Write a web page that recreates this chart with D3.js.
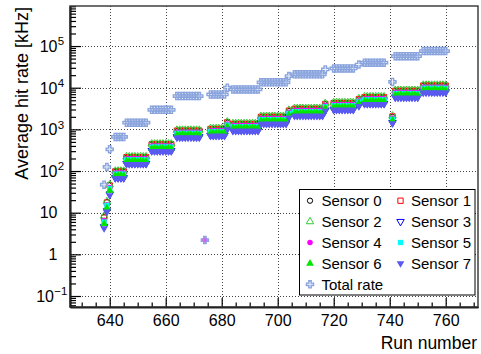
<!DOCTYPE html>
<html><head><meta charset="utf-8">
<script src="https://cdn.jsdelivr.net/npm/d3@7"></script>
<style>
body{margin:0;background:#fff}
svg{display:block}
text{font-family:"Liberation Sans",Arial,Helvetica,sans-serif;fill:#000}
</style>
</head><body>
<svg id="c" width="481" height="354"></svg>
<script>
// ---------------- DATA ----------------
const runs = [638,639,640,
 642,643,644,645,
 646,647,648,649,650,651,652,653,
 655,656,657,658,659,660,661,662,
 664,665,666,667,668,669,670,671,672,
 674,
 676,677,678,679,680,681,
 682,
 684,685,686,687,688,689,690,691,692,693,
 694,695,696,697,698,699,700,701,702,703,
 704,
 706,707,708,709,710,711,712,713,714,715,716,
 717,
 720,721,722,723,724,725,726,727,
 729,
 731,732,733,734,735,736,737,738,
 741,
 742,743,744,745,746,747,748,749,750,
 752,753,754,755,756,757,758,759,760];

const sensor0 = [8.0,18,46,
 96,96,96,96,
 210,210,210,210,210,210,210,210,
 428,428,428,428,428,428,428,428,
 914,914,914,914,914,914,914,914,914,
 null,
 1000,1000,1000,1000,1000,1000,
 1450,
 1320,1320,1320,1320,1320,1320,1320,1320,1320,1320,
 1958,1958,1958,1958,1958,1958,1958,1958,1958,1958,
 2755,
 3045,3045,3045,3045,3045,3045,3045,3045,3045,3045,3045,
 3988,
 4205,4205,4205,4205,4205,4205,4205,4205,
 5220,
 5800,5800,5800,5800,5800,5800,5800,5800,
 2001,
 8265,8265,8265,8265,8265,8265,8265,8265,8265,
 11020,11020,11020,11020,11020,11020,11020,11020,11020];

const sensor1 = [7.6,17.5,45,
 98,98,98,98,
 215,215,215,215,215,215,215,215,
 437,437,437,437,437,437,437,437,
 932,932,932,932,932,932,932,932,932,
 null,
 1021,1021,1021,1021,1021,1021,
 1480,
 1347,1347,1347,1347,1347,1347,1347,1347,1347,1347,
 1998,1998,1998,1998,1998,1998,1998,1998,1998,1998,
 2812,
 3108,3108,3108,3108,3108,3108,3108,3108,3108,3108,3108,
 4070,
 4292,4292,4292,4292,4292,4292,4292,4292,
 5328,
 5920,5920,5920,5920,5920,5920,5920,5920,
 2042,
 8436,8436,8436,8436,8436,8436,8436,8436,8436,
 11248,11248,11248,11248,11248,11248,11248,11248,11248];

const sensor2 = [8.3,18.5,47,
 100,100,100,100,
 220,220,220,220,220,220,220,220,
 448,448,448,448,448,448,448,448,
 958,958,958,958,958,958,958,958,958,
 null,
 1049,1049,1049,1049,1049,1049,
 1520,
 1383,1383,1383,1383,1383,1383,1383,1383,1383,1383,
 2052,2052,2052,2052,2052,2052,2052,2052,2052,2052,
 2888,
 3192,3192,3192,3192,3192,3192,3192,3192,3192,3192,3192,
 4180,
 4408,4408,4408,4408,4408,4408,4408,4408,
 5472,
 6080,6080,6080,6080,6080,6080,6080,6080,
 2098,
 8664,8664,8664,8664,8664,8664,8664,8664,8664,
 11552,11552,11552,11552,11552,11552,11552,11552,11552];

const sensor3 = [4.6,11,28,
 69,69,69,69,
 152,152,152,152,152,152,152,152,
 310,310,310,310,310,310,310,310,
 662,662,662,662,662,662,662,662,662,
 null,
 725,725,725,725,725,725,
 1050,
 956,956,956,956,956,956,956,956,956,956,
 1418,1418,1418,1418,1418,1418,1418,1418,1418,1418,
 1995,
 2205,2205,2205,2205,2205,2205,2205,2205,2205,2205,2205,
 2888,
 3045,3045,3045,3045,3045,3045,3045,3045,
 3780,
 4200,4200,4200,4200,4200,4200,4200,4200,
 1449,
 5985,5985,5985,5985,5985,5985,5985,5985,5985,
 7980,7980,7980,7980,7980,7980,7980,7980,7980];

const sensor4 = [6.5,15.5,40,
 89,89,89,89,
 196,196,196,196,196,196,196,196,
 398,398,398,398,398,398,398,398,
 851,851,851,851,851,851,851,851,851,
 2.2,
 932,932,932,932,932,932,
 1350,
 1229,1229,1229,1229,1229,1229,1229,1229,1229,1229,
 1823,1823,1823,1823,1823,1823,1823,1823,1823,1823,
 2565,
 2835,2835,2835,2835,2835,2835,2835,2835,2835,2835,2835,
 3713,
 3915,3915,3915,3915,3915,3915,3915,3915,
 4860,
 5400,5400,5400,5400,5400,5400,5400,5400,
 1863,
 7695,7695,7695,7695,7695,7695,7695,7695,7695,
 10260,10260,10260,10260,10260,10260,10260,10260,10260];

const sensor5 = [6.0,15,38,
 84,84,84,84,
 184,184,184,184,184,184,184,184,
 375,375,375,375,375,375,375,375,
 800,800,800,800,800,800,800,800,800,
 null,
 876,876,876,876,876,876,
 1270,
 1156,1156,1156,1156,1156,1156,1156,1156,1156,1156,
 1715,1715,1715,1715,1715,1715,1715,1715,1715,1715,
 2413,
 2667,2667,2667,2667,2667,2667,2667,2667,2667,2667,2667,
 3493,
 3683,3683,3683,3683,3683,3683,3683,3683,
 4572,
 5080,5080,5080,5080,5080,5080,5080,5080,
 1753,
 7239,7239,7239,7239,7239,7239,7239,7239,7239,
 9652,9652,9652,9652,9652,9652,9652,9652,9652];

const sensor6 = [5.4,13,34,
 78,78,78,78,
 171,171,171,171,171,171,171,171,
 348,348,348,348,348,348,348,348,
 743,743,743,743,743,743,743,743,743,
 null,
 814,814,814,814,814,814,
 1180,
 1074,1074,1074,1074,1074,1074,1074,1074,1074,1074,
 1593,1593,1593,1593,1593,1593,1593,1593,1593,1593,
 2242,
 2478,2478,2478,2478,2478,2478,2478,2478,2478,2478,2478,
 3245,
 3422,3422,3422,3422,3422,3422,3422,3422,
 4248,
 4720,4720,4720,4720,4720,4720,4720,4720,
 1628,
 6726,6726,6726,6726,6726,6726,6726,6726,6726,
 8968,8968,8968,8968,8968,8968,8968,8968,8968];

const sensor7 = [4.2,10.5,26,
 66,66,66,66,
 145,145,145,145,145,145,145,145,
 295,295,295,295,295,295,295,295,
 630,630,630,630,630,630,630,630,630,
 null,
 690,690,690,690,690,690,
 1000,
 910,910,910,910,910,910,910,910,910,910,
 1350,1350,1350,1350,1350,1350,1350,1350,1350,1350,
 1900,
 2100,2100,2100,2100,2100,2100,2100,2100,2100,2100,2100,
 2750,
 2900,2900,2900,2900,2900,2900,2900,2900,
 3600,
 4000,4000,4000,4000,4000,4000,4000,4000,
 1380,
 5700,5700,5700,5700,5700,5700,5700,5700,5700,
 7600,7600,7600,7600,7600,7600,7600,7600,7600];

const totalRate = [47,125,333,
 660,660,660,660,
 1450,1450,1450,1450,1450,1450,1450,1450,
 2950,2950,2950,2950,2950,2950,2950,2950,
 6300,6300,6300,6300,6300,6300,6300,6300,6300,
 2.2,
 6900,6900,6900,6900,6900,6900,
 10000,
 9100,9100,9100,9100,9100,9100,9100,9100,9100,9100,
 13500,13500,13500,13500,13500,13500,13500,13500,13500,13500,
 19000,
 21000,21000,21000,21000,21000,21000,21000,21000,21000,21000,21000,
 27500,
 29000,29000,29000,29000,29000,29000,29000,29000,
 36000,
 40000,40000,40000,40000,40000,40000,40000,40000,
 13800,
 57000,57000,57000,57000,57000,57000,57000,57000,57000,
 76000,76000,76000,76000,76000,76000,76000,76000,76000];

const seriesNames = ["Sensor 0","Sensor 1","Sensor 2","Sensor 3","Sensor 4","Sensor 5","Sensor 6","Sensor 7","Total rate"];
const xMajorTicks = [640,660,680,700,720,740,760];
const yDecadeExps = [-1,0,1,2,3,4,5];
const xTitle = "Run number";
const yTitle = "Average hit rate [kHz]";

// ---------------- CHART ----------------
const svg = d3.select("#c");
const F = {l:70, r:478, t:6, b:307};
const x = d3.scaleLinear().domain([625.82, 771.54]).range([F.l, F.r]);
const y = d3.scaleLog().domain([0.05445, 915000]).range([F.b, F.t]);

svg.append("rect").attr("width",481).attr("height",354).attr("fill","#fff");

// grid
const grid = svg.append("g").attr("stroke","#222").attr("stroke-width",1).attr("stroke-dasharray","1,2").attr("opacity",0.85);
grid.selectAll("line.gx").data(xMajorTicks).join("line")
  .attr("x1",d=>Math.round(x(d))+0.5).attr("x2",d=>Math.round(x(d))+0.5)
  .attr("y1",F.t).attr("y2",F.b);
grid.selectAll("line.gy").data(yDecadeExps.map(k=>Math.pow(10,k))).join("line")
  .attr("y1",d=>Math.round(y(d))+0.5).attr("y2",d=>Math.round(y(d))+0.5)
  .attr("x1",F.l).attr("x2",F.r);

// markers
const styles = [
 {type:d3.symbolCircle,  size:22, fill:"none",    stroke:"#000000", rot:0, sw:1},
 {type:d3.symbolSquare,  size:28, fill:"none",    stroke:"#ff0000", rot:0, sw:1},
 {type:d3.symbolTriangle,size:24, fill:"none",    stroke:"#33cc33", rot:0, sw:1},
 {type:d3.symbolTriangle,size:24, fill:"none",    stroke:"#0000ff", rot:180, sw:1},
 {type:d3.symbolCircle,  size:24, fill:"#ff00ff", stroke:"none",    rot:0, sw:1},
 {type:d3.symbolSquare,  size:28, fill:"#00ffff", stroke:"none",    rot:0, sw:1},
 {type:d3.symbolTriangle,size:26, fill:"#00e600", stroke:"none",    rot:0, sw:1},
 {type:d3.symbolTriangle,size:26, fill:"#5a5af0", stroke:"none",    rot:180, sw:1},
 {type:d3.symbolCross,   size:28, fill:"rgba(200,214,240,0.35)", stroke:"#8aa4dd", rot:0, sw:1.4}
];
const allSeries = [sensor0,sensor1,sensor2,sensor3,sensor4,sensor5,sensor6,sensor7,totalRate];

svg.append("clipPath").attr("id","clip").append("rect")
  .attr("x",F.l).attr("y",F.t).attr("width",F.r-F.l).attr("height",F.b-F.t);
const plot = svg.append("g").attr("clip-path","url(#clip)");

function drawMarker(g, st, cx, cy){
  g.append("path").attr("d", d3.symbol().type(st.type).size(st.size)())
   .attr("transform",`translate(${cx},${cy}) rotate(${st.rot})`)
   .attr("fill",st.fill).attr("stroke",st.stroke).attr("stroke-width",st.sw);
}

allSeries.forEach((vals,i)=>{
  const st = styles[i];
  const pts = runs.map((r,j)=>({r, v: vals[j]})).filter(d=>d.v!=null);
  plot.append("g").selectAll("path").data(pts).join("path")
    .attr("d", d3.symbol().type(st.type).size(st.size)())
    .attr("transform", d=>`translate(${x(d.r)},${y(d.v)}) rotate(${st.rot})`)
    .attr("fill", st.fill).attr("stroke", st.stroke).attr("stroke-width", st.sw);
});

// axes (ticks inside, ROOT style)
const xMinor = d3.range(630, 771, 5).filter(d=>xMajorTicks.indexOf(d)<0);
const xAxisG = svg.append("g").attr("transform",`translate(0,${F.b})`)
  .call(d3.axisBottom(x).tickValues(xMajorTicks).tickSize(-9).tickSizeOuter(0).tickPadding(8).tickFormat(d3.format("d")));
svg.append("g").attr("transform",`translate(0,${F.b})`)
  .call(d3.axisBottom(x).tickValues(xMinor).tickSize(-4.5).tickSizeOuter(0).tickFormat(""));
xAxisG.selectAll("text").attr("font-size",16).attr("font-family","Liberation Sans, Arial, sans-serif");

const yMinor = [];
for(let k=-2;k<=5;k++) for(let m=2;m<=9;m++){ const v=m*Math.pow(10,k); if(v>0.0545 && v<915000) yMinor.push(v); }
svg.append("g").attr("transform",`translate(${F.l},0)`)
  .call(d3.axisLeft(y).tickValues(yDecadeExps.map(k=>Math.pow(10,k))).tickSize(-11).tickSizeOuter(0).tickFormat(""));
svg.append("g").attr("transform",`translate(${F.l},0)`)
  .call(d3.axisLeft(y).tickValues(yMinor).tickSize(-6).tickSizeOuter(0).tickFormat(""));

svg.selectAll(".domain").attr("stroke","#000").attr("stroke-width",1.6);
svg.selectAll(".tick line").attr("stroke","#000").attr("stroke-width",1.2);

// frame
svg.append("rect").attr("x",F.l).attr("y",F.t).attr("width",F.r-F.l).attr("height",F.b-F.t)
  .attr("fill","none").attr("stroke","#333").attr("stroke-width",1.4);

// y labels
const yl = svg.append("g").attr("font-size",16);
yDecadeExps.forEach(k=>{
  const yy = y(Math.pow(10,k));
  if(k===0 || k===1){
    yl.append("text").attr("x",57.5).attr("y",yy+5.8).attr("text-anchor","end").text(k===0?"1":"10");
  } else {
    const bx = k<0 ? 54 : 57.5;
    yl.append("text").attr("x",bx).attr("y",yy+5.8).attr("text-anchor","end").text("10");
    yl.append("text").attr("x",bx+0.3).attr("y",yy-0.8).attr("font-size",11.5).text(k<0?"\u22121":String(k));
  }
});

// titles
svg.append("text").attr("x",477).attr("y",349).attr("text-anchor","end").attr("font-size",17.5).text(xTitle);
svg.append("text").attr("transform","translate(28,7) rotate(-90)").attr("text-anchor","end").attr("font-size",18).text(yTitle);

// legend
const lg = svg.append("g");
lg.append("rect").attr("x",299.5).attr("y",189.5).attr("width",175.5).attr("height",105.5)
  .attr("fill","#fff").attr("stroke","#000").attr("stroke-width",1);
seriesNames.forEach((name,i)=>{
  const col = i%2, row = Math.floor(i/2);
  const cy = 200.7 + row*20.9;
  const mx = col===0 ? 310 : 400.5;
  const tx = col===0 ? 321.5 : 411;
  drawMarker(lg, styles[i], mx, cy);
  lg.append("text").attr("x",tx).attr("y",cy+5.4).attr("font-size",15).text(name);
});
</script>
</body></html>
